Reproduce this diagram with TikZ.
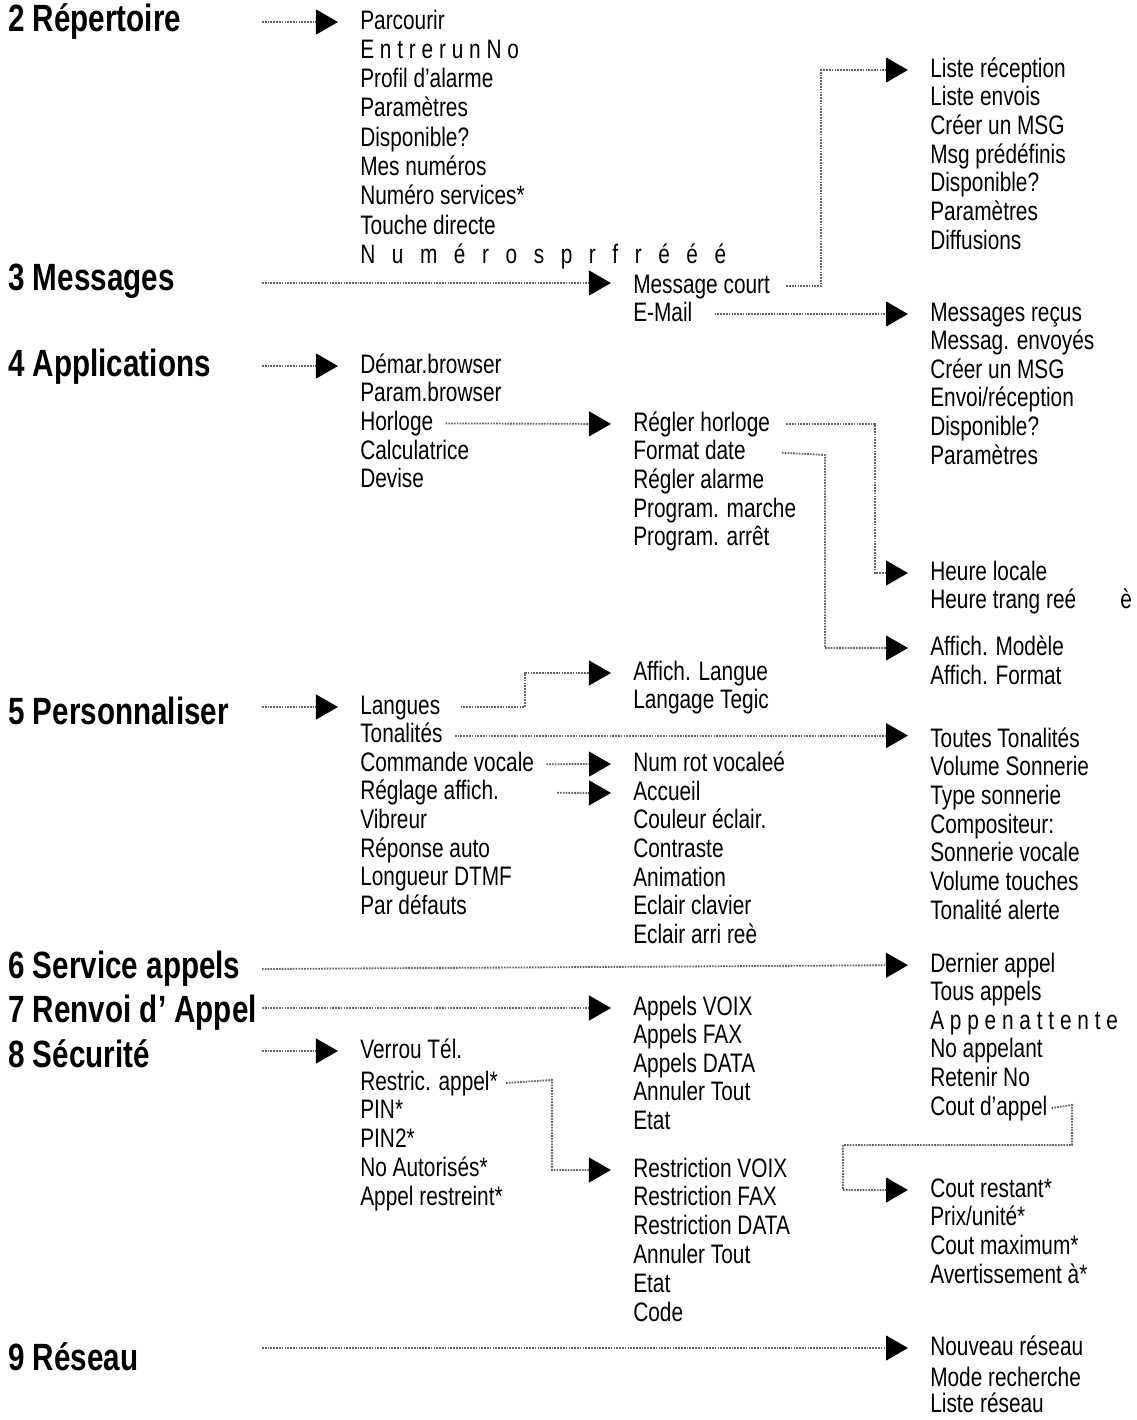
\documentclass[tikz,border=0pt]{standalone}
\usepackage{fontspec}
\setmainfont[FakeStretch=0.78]{Liberation Sans}
\usetikzlibrary{arrows.meta}
\tikzset{
  item/.style={anchor=west, inner sep=0pt, text height=14pt, text depth=4pt,
    font=\fontsize{19}{22}\selectfont},
  head/.style={anchor=west, inner sep=0pt, font=\fontsize{27}{30}\selectfont\bfseries},
  link/.style={draw=black!60, line width=1.3pt, dash pattern=on 1.2pt off 0.8pt,
    -{Triangle[length=0.55cm, width=0.62cm, color=black]}}
}
\begin{document}
\begin{tikzpicture}[x=0.025cm, y=-0.025cm]
\useasboundingbox (0,0) rectangle (1137,1420);
% headers
\node[head] (h2) at (8, 22) {2 Répertoire};
\node[head] (h3) at (8, 281) {3 Messages};
\node[head] (h4) at (8, 367) {4 Applications};
\node[head] (h5) at (8, 711) {5 Personnaliser};
\node[head] (h6) at (8, 969) {6 Service appels};
\node[head] (h7) at (8, 1013) {7 Renvoi d' Appel};
\node[head] (h8) at (8, 1054) {8 Sécurité};
\node[head] (h9) at (8, 1357) {9 Réseau};
\coordinate (tail) at (262, 0);
% first column
\foreach \t [count=\i] in {Parcourir, E n t r e r u n N o, Profil d'alarme, Paramètres,
  Disponible?, Mes numéros, Numéro services*, Touche directe}
  \node[item] (rep\i) at (360, {22+29.3*(\i-1)}) {\t};
\node[item] (rep9) at (360, 256) {\spaceskip=0.62em N u m é r o s p r f r é é é};
\foreach \t [count=\i] in {Démar.browser, Param.browser, Horloge, Calculatrice, Devise}
  \node[item] (app\i) at (360, {366+28.7*(\i-1)}) {\t};
\foreach \t [count=\i] in {Langues, Tonalités, Commande vocale, Réglage affich., Vibreur,
  Réponse auto, Longueur DTMF, Par défauts}
  \node[item] (pers\i) at (360, {707+28.6*(\i-1)}) {\t};
\node[item] (sec1) at (360, 1051) {Verrou Tél.};
\foreach \t [count=\i from 2] in {Restric. appel*, PIN*, PIN2*, No Autorisés*, Appel restreint*}
  \node[item] (sec\i) at (360, {1083+28.8*(\i-2)}) {\t};
% second column
\node[item] (msg1) at (633, 286) {Message court};
\node[item] (msg2) at (633, 314) {E-Mail};
\foreach \t [count=\i] in {Régler horloge, Format date, Régler alarme, Program. marche, Program. arrêt}
  \node[item] (hor\i) at (633, {424+28.7*(\i-1)}) {\t};
\node[item] (lang1) at (633, 673) {Affich. Langue};
\node[item] (lang2) at (633, 701) {Langage Tegic};
\node[item] (voc1) at (633, 764) {Num rot vocaleé};
\foreach \t [count=\i] in {Accueil, Couleur éclair., Contraste, Animation, Eclair clavier, Eclair arri reè}
  \node[item] (aff\i) at (633, {793+28.7*(\i-1)}) {\t};
\foreach \t [count=\i] in {Appels VOIX, Appels FAX, Appels DATA, Annuler Tout, Etat}
  \node[item] (ren\i) at (633, {1008+28.6*(\i-1)}) {\t};
\foreach \t [count=\i] in {Restriction VOIX, Restriction FAX, Restriction DATA, Annuler Tout, Etat, Code}
  \node[item] (res\i) at (633, {1170+28.8*(\i-1)}) {\t};
% third column
\foreach \t [count=\i] in {Liste réception, Liste envois, Créer un MSG, Msg prédéfinis,
  Disponible?, Paramètres, Diffusions}
  \node[item] (sms\i) at (930, {70+28.7*(\i-1)}) {\t};
\foreach \t [count=\i] in {Messages reçus, Messag. envoyés, Créer un MSG, Envoi/réception,
  Disponible?, Paramètres}
  \node[item] (mail\i) at (930, {314+28.6*(\i-1)}) {\t};
\node[item] (loc1) at (930, 573) {Heure locale};
\node[item] (loc2) at (930, 601) {Heure trang reé};
\node[item] (loc3) at (1120, 601) {è};
\node[item] (fmt1) at (930, 648) {Affich. Modèle};
\node[item] (fmt2) at (930, 677) {Affich. Format};
\foreach \t [count=\i] in {Toutes Tonalités, Volume Sonnerie, Type sonnerie, Compositeur:,
  Sonnerie vocale, Volume touches, Tonalité alerte}
  \node[item] (ton\i) at (930, {740+28.7*(\i-1)}) {\t};
\foreach \t [count=\i] in {Dernier appel, Tous appels, A p p e n a t t e n t e, No appelant,
  Retenir No, Cout d'appel}
  \node[item] (srv\i) at (930, {965+28.6*(\i-1)}) {\t};
\foreach \t [count=\i] in {Cout restant*, Prix/unité*, Cout maximum*, Avertissement à*}
  \node[item] (cout\i) at (930, {1190+28.7*(\i-1)}) {\t};
\node[item] (net1) at (930, 1348) {Nouveau réseau};
\node[item] (net2) at (930, 1379) {Mode recherche};
\node[item] (net3) at (930, 1405) {Liste réseau};
% connectors
\begin{scope}[shorten >=0.55cm]
\draw[link] (tail |- h2.west) -- (rep1.west);
\draw[link] (tail |- 0,283) -- (msg1.west |- 0,283);
\draw[link] (tail |- app1.west) -- (app1.west);
\draw[link] (tail |- pers1.west) -- (pers1.west);
\draw[link] (tail |- h6.west) -- (srv1.west);
\draw[link] (tail |- ren1.west) -- (ren1.west);
\draw[link] (tail |- sec1.west) -- (sec1.west);
\draw[link] (tail |- net1.west) -- (net1.west);
\draw[link] ([xshift=0.4cm]msg1.east) -- ++(35,0) |- (sms1.west);
\draw[link] ([xshift=0.55cm]msg2.east) -- (mail1.west);
\draw[link] ([xshift=0.3cm]app3.east) -- (hor1.west);
\draw[link] ([xshift=0.4cm]hor1.east) -- (875,424) |- (loc1.west);
\draw[link] ([xshift=0.9cm]hor2.east) -- (825,455) |- (fmt1.west);
\draw[link] ([xshift=0.5cm]pers1.east) -- (525,707) |- (lang1.west);
\draw[link] ([xshift=0.3cm]pers2.east) -- (ton1.west |- pers2.west);
\draw[link] ([xshift=0.3cm]pers3.east) -- (voc1.west);
\draw[link] ([xshift=1.45cm]pers4.east) -- (aff1.west);
\draw[link] ([xshift=0.2cm]sec2.east) -- (552,1080) |- (res1.west);
\draw[link] ([xshift=0.1cm]srv6.east) -- (1072,1105) -- (1072,1145) -- (843,1145) |- (cout1.west);
\end{scope}
\end{tikzpicture}
\end{document}
